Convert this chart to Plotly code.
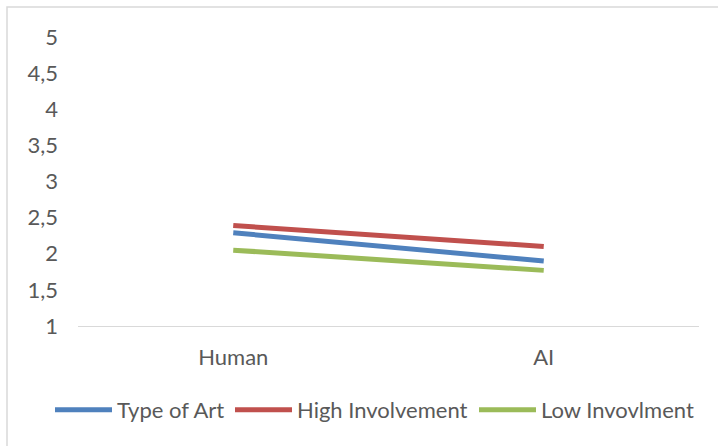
import plotly.graph_objects as go

categories = ["Human", "AI"]
type_of_art = [2.29, 1.90]
high_involvement = [2.39, 2.10]
low_involvment = [2.05, 1.77]

y_ticks = [1, 1.5, 2, 2.5, 3, 3.5, 4, 4.5, 5]
y_tick_labels = ["1", "1,5", "2", "2,5", "3", "3,5", "4", "4,5", "5"]

series = [
    ("Type of Art", type_of_art, "#4F81BD"),
    ("High Involvement", high_involvement, "#C0504D"),
    ("Low Invovlment", low_involvment, "#9BBB59"),
]

text_color = "#595959"
font_family = "Lato, 'Open Sans', sans-serif"
W, H = 718, 446
L, R, T, B = 78, 19, 37, 120
pw, ph = W - L - R, H - T - B

# one legend per series so each entry sits where it should in the bottom row
legend_ids = ["legend", "legend2", "legend3"]
legend_left_px = [50, 230, 474]

fig = go.Figure()
for (name, values, color), lid in zip(series, legend_ids):
    fig.add_trace(go.Scatter(
        x=categories, y=values, name=name, mode="lines",
        line=dict(color=color, width=5), legend=lid,
    ))

legend_layouts = {}
for lid, left in zip(legend_ids, legend_left_px):
    legend_layouts[lid] = dict(
        orientation="h", xref="container", yref="container",
        x=left / W, xanchor="left", y=1 - 410 / H, yanchor="middle",
        font=dict(size=22, color=text_color), itemwidth=57,
        bgcolor="rgba(0,0,0,0)", borderwidth=0,
    )

fig.update_layout(
    width=W, height=H,
    margin=dict(l=L, r=R, t=T, b=B, autoexpand=False),
    paper_bgcolor="white", plot_bgcolor="white",
    font=dict(family=font_family, size=22, color=text_color),
    showlegend=True,
    xaxis=dict(
        type="category", range=[-0.5, 1.5],
        showgrid=False, showline=True, linecolor="#D9D9D9", linewidth=1,
        ticks="", tickfont=dict(size=22, color=text_color),
        ticklabelstandoff=12,
    ),
    yaxis=dict(
        range=[1, 5], tickvals=y_ticks, ticktext=y_tick_labels,
        showgrid=False, zeroline=False, showline=False,
        ticks="", tickfont=dict(size=22, color=text_color),
        ticklabelstandoff=19,
    ),
    shapes=[dict(
        type="rect", xref="paper", yref="paper",
        x0=(7 - L) / pw, x1=(W + 20 - L) / pw,
        y0=-(B + 20) / ph, y1=1 + (T - 7) / ph,
        line=dict(color="#D9D9D9", width=1.5), fillcolor="rgba(0,0,0,0)",
        layer="below",
    )],
    **legend_layouts,
)

fig.write_html("out.html")
